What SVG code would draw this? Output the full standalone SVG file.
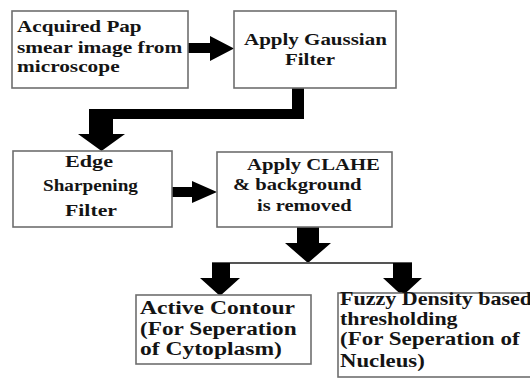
<svg xmlns="http://www.w3.org/2000/svg" width="530" height="379" viewBox="0 0 530 379">
<rect width="530" height="379" fill="#fff"/>
<g id="connectors" fill="#000">
<polygon points="188,43 210,43 210,36 234,48.5 210,61 210,53 188,53"/>
<polygon points="292,88 304,88 304,119 113,119 113,134 125,134 101.5,151 78,134 89,134 89,109 292,109"/>
<polygon points="172,187 192,187 192,181 217,192 192,203 192,197 172,197"/>
<polygon points="297,227 319,227 319,243 331,243 308,263 285,243 297,243"/>
<line x1="212" y1="263" x2="412" y2="263" stroke="#555" stroke-width="2"/>
<polygon points="212,263 230,263 230,278 240,278 220,296 200,278 212,278"/>
<polygon points="393,263 412,263 412,278 422,278 402.5,296 383,278 393,278"/>
</g>
<g font-family="Liberation Serif" font-weight="bold" font-size="17.5" fill="#141414">
<g id="n1">
<rect x="12" y="11" width="176" height="77" fill="#fff" stroke="#6e6e6e" stroke-width="1.6"/>
<text transform="translate(17,32) scale(1.208,1)">Acquired Pap</text>
<text transform="translate(17,53) scale(1.22,1)">smear image from</text>
<text transform="translate(17,72) scale(1.218,1)">microscope</text>
</g>
<g id="n2">
<rect x="234" y="11" width="162" height="77" fill="#fff" stroke="#6e6e6e" stroke-width="1.6"/>
<text transform="translate(244,44.5) scale(1.2,1)">Apply Gaussian</text>
<text transform="translate(285,65) scale(1.196,1)">Filter</text>
</g>
<g id="n3">
<rect x="13" y="151" width="159" height="76" fill="#fff" stroke="#6e6e6e" stroke-width="1.6"/>
<text transform="translate(65,167) scale(1.266,1)">Edge</text>
<text transform="translate(43,191) scale(1.097,1)">Sharpening</text>
<text transform="translate(65,216) scale(1.244,1)">Filter</text>
</g>
<g id="n4">
<rect x="217" y="152" width="175" height="75" fill="#fff" stroke="#6e6e6e" stroke-width="1.6"/>
<text transform="translate(247,170) scale(1.184,1)">Apply CLAHE</text>
<text transform="translate(233,189.5) scale(1.179,1)">&amp; background</text>
<text transform="translate(257,211) scale(1.17,1)">is removed</text>
</g>
<g id="n5" font-size="19">
<rect x="136" y="295" width="175" height="69" fill="#fff" stroke="#6e6e6e" stroke-width="1.6"/>
<text transform="translate(140,314) scale(1.24,1)">Active Contour</text>
<text transform="translate(140,335) scale(1.225,1)">(For Seperation</text>
<text transform="translate(140,355) scale(1.24,1)">of Cytoplasm)</text>
</g>
<g id="n6" font-size="19">
<rect x="338" y="293" width="220" height="84" fill="#fff" stroke="#6e6e6e" stroke-width="1.6"/>
<text transform="translate(340,305) scale(1.16,1)">Fuzzy Density based</text>
<text transform="translate(340,325) scale(1.152,1)">thresholding</text>
<text transform="translate(340,345) scale(1.21,1)">(For Seperation of</text>
<text transform="translate(340,367) scale(1.2,1)">Nucleus)</text>
</g>
</g>
</svg>
